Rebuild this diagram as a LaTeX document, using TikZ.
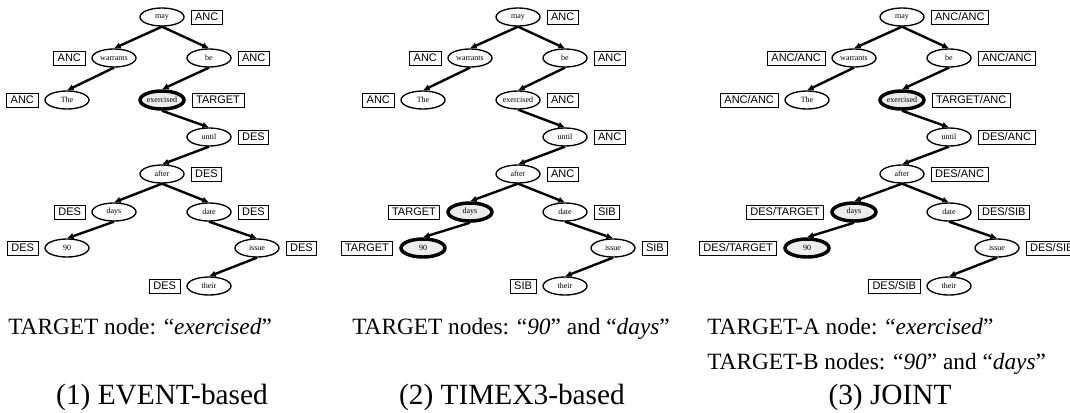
\documentclass[tikz,border=0pt]{standalone}
\usepackage{fontspec}
\setmainfont{Liberation Serif}
\setsansfont{Liberation Sans}
\usetikzlibrary{arrows.meta,positioning,shapes.geometric}

\tikzset{
  word/.style={ellipse, draw, minimum width=33pt, minimum height=13.5pt, inner sep=0pt, font=\fontsize{6}{7}\selectfont},
  tag/.style={draw, line width=0.6pt, inner xsep=3pt, inner ysep=0pt, minimum height=10.5pt, font=\sffamily\fontsize{8.25}{9}\selectfont},
  dep/.style={line width=1.8pt, -{Latex[length=5pt,width=5pt]}},
  captext/.style={inner sep=0pt, font=\fontsize{17.5}{20}\selectfont},
  panelname/.style={inner sep=0pt, font=\fontsize{22}{26}\selectfont},
}

\begin{document}
\begin{tikzpicture}[x=0.75pt,y=-0.75pt]
  \useasboundingbox (0,0) rectangle (1070,412);

  %%%%% (1) EVENT-based %%%%%
  \begin{scope}[shift={(162,0)}]
    \foreach \n/\x/\y/\sd/\lab/\lw/\fc in {
      may/0/17/right/ANC/1pt/white,
      warrants/-48/58/left/ANC/1pt/white,
      be/47/58/right/ANC/1pt/white,
      The/-95/100/left/ANC/1pt/white,
      exercised/0/100/right/TARGET/2.6pt/gray!15,
      until/47/137/right/DES/1pt/white,
      after/0/174/right/DES/1pt/white,
      days/-48/212/left/DES/1pt/white,
      date/47/212/right/DES/1pt/white,
      90/-95/248/left/DES/1pt/white,
      issue/95/248/right/DES/1pt/white,
      their/47/286/left/DES/1pt/white}{
      \node[word, line width=\lw, fill=\fc] (a\n) at (\x,\y) {\n};
      \node[tag, \sd=4.5pt of a\n] (a\n tag) {\lab};
    }
    \foreach \p/\c in {may/warrants, may/be, warrants/The, be/exercised, exercised/until,
      until/after, after/days, after/date, days/90, date/issue, issue/their}
      \draw[dep] (a\p.south) -- (a\c.north);
  \end{scope}

  %%%%% (2) TIMEX3-based %%%%%
  \begin{scope}[shift={(518,0)}]
    \foreach \n/\x/\y/\sd/\lab/\lw/\fc in {
      may/0/17/right/ANC/1pt/white,
      warrants/-48/58/left/ANC/1pt/white,
      be/47/58/right/ANC/1pt/white,
      The/-95/100/left/ANC/1pt/white,
      exercised/0/100/right/ANC/1pt/white,
      until/47/137/right/ANC/1pt/white,
      after/0/174/right/ANC/1pt/white,
      days/-48/212/left/TARGET/2.6pt/gray!15,
      date/47/212/right/SIB/1pt/white,
      90/-95/248/left/TARGET/2.6pt/gray!15,
      issue/95/248/right/SIB/1pt/white,
      their/47/286/left/SIB/1pt/white}{
      \node[word, line width=\lw, fill=\fc] (b\n) at (\x,\y) {\n};
      \node[tag, \sd=4.5pt of b\n] (b\n tag) {\lab};
    }
    \foreach \p/\c in {may/warrants, may/be, warrants/The, be/exercised, exercised/until,
      until/after, after/days, after/date, days/90, date/issue, issue/their}
      \draw[dep] (b\p.south) -- (b\c.north);
  \end{scope}

  %%%%% (3) JOINT %%%%%
  \begin{scope}[shift={(902,0)}]
    \foreach \n/\x/\y/\sd/\lab/\lw/\fc in {
      may/0/17/right/{ANC/ANC}/1pt/white,
      warrants/-48/58/left/{ANC/ANC}/1pt/white,
      be/47/58/right/{ANC/ANC}/1pt/white,
      The/-95/100/left/{ANC/ANC}/1pt/white,
      exercised/0/100/right/{TARGET/ANC}/2.6pt/gray!15,
      until/47/137/right/{DES/ANC}/1pt/white,
      after/0/174/right/{DES/ANC}/1pt/white,
      days/-48/212/left/{DES/TARGET}/2.6pt/gray!15,
      date/47/212/right/{DES/SIB}/1pt/white,
      90/-95/248/left/{DES/TARGET}/2.6pt/gray!15,
      issue/95/248/right/{DES/SIB}/1pt/white,
      their/47/286/left/{DES/SIB}/1pt/white}{
      \node[word, line width=\lw, fill=\fc] (c\n) at (\x,\y) {\n};
      \node[tag, \sd=4.5pt of c\n] (c\n tag) {\lab};
    }
    \foreach \p/\c in {may/warrants, may/be, warrants/The, be/exercised, exercised/until,
      until/after, after/days, after/date, days/90, date/issue, issue/their}
      \draw[dep] (c\p.south) -- (c\c.north);
  \end{scope}

  %%%%% captions %%%%%
  \node[captext, anchor=base west] (cap1) at (8,334) {TARGET node: ``\textit{exercised}''};
  \node[captext, anchor=base west] (cap2) at (352,334) {TARGET nodes: ``\textit{90}'' and ``\textit{days}''};
  \node[captext, anchor=base west] (cap3a) at (707,334) {TARGET-A node: ``\textit{exercised}''};
  \node[captext, anchor=base west] (cap3b) at (707,369) {TARGET-B nodes: ``\textit{90}'' and ``\textit{days}''};

  \node[panelname, anchor=base] (name1) at (162,404) {(1) EVENT-based};
  \node[panelname, anchor=base] (name2) at (512,404) {(2) TIMEX3-based};
  \node[panelname, anchor=base] (name3) at (890,404) {(3) JOINT};
\end{tikzpicture}
\end{document}
